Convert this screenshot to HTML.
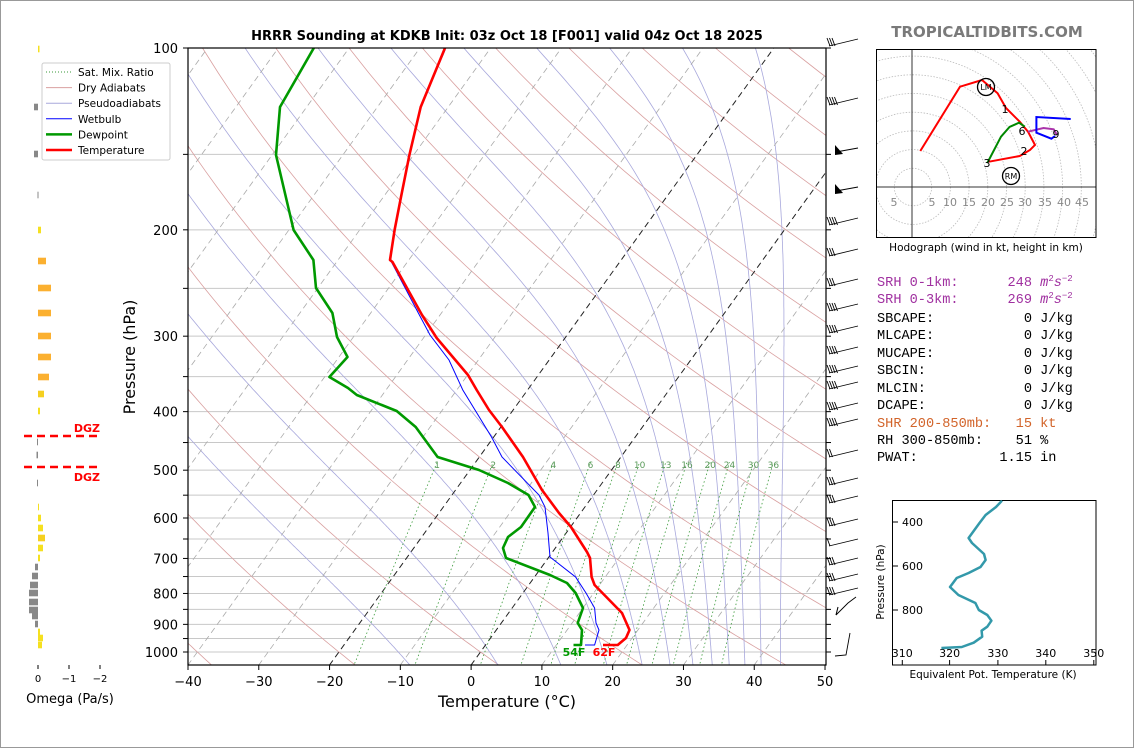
<!DOCTYPE html>
<html><head><meta charset="utf-8"><style>
html,body{margin:0;padding:0;background:#fff;}
svg{display:block;font-family:"DejaVu Sans","Liberation Sans",sans-serif;}
</style></head><body>
<svg id="s" xmlns="http://www.w3.org/2000/svg" width="1134" height="748" viewBox="0 0 1134 748">
<defs>
<clipPath id="pc"><rect x="188" y="48" width="638" height="617"/></clipPath>
<clipPath id="hc"><rect x="877" y="49" width="219" height="188"/></clipPath>
</defs>
<rect x="0.5" y="0.5" width="1133" height="747" fill="#fff" stroke="#999"/>
<g id="bg" clip-path="url(#pc)"></g>
<g id="fg"></g>
</svg>
<script>
var NS="http://www.w3.org/2000/svg";
function el(t,a,p,txt){var e=document.createElementNS(NS,t);for(var k in a)e.setAttribute(k,a[k]);if(txt!=null)e.textContent=txt;(p||document.getElementById('fg')).appendChild(e);return e;}
var bg=document.getElementById('bg');
function Y(p){return 48+604*Math.log10(p/100);}
function X(T,p){return 188+(T+40)*7.078+0.72*(665-Y(p));}
function pts(a){return a.map(function(q){return q[0].toFixed(1)+","+q[1].toFixed(1)}).join(" ");}
var isob=[100,150,200,250,300,350,400,450,500,550,600,650,700,750,800,850,900,950,1000];
isob.forEach(function(p){var y=Y(p);el('line',{x1:188,x2:826,y1:y,y2:y,stroke:'#c8c8c8','stroke-width':1},bg);});
for(var th=-80;th<=240;th+=20){var a=[];for(var p=1060;p>=95;p-=10){var T=(th+273.15)*Math.pow(p/1000,0.286)-273.15;a.push([X(T,p),Y(p)]);}el('polyline',{points:pts(a),fill:'none',stroke:'#d9a0a0','stroke-width':0.8},bg);}
function es(T){return 6.112*Math.exp(17.67*T/(T+243.5));}
for(var k=-4;k<=7;k++){var T=-94.7+10.3*k+273.15,p=100,a=[[X(T-273.15,p),Y(p)]];
while(p<1060){var Tc=T-273.15,e=es(Tc),rs=0.622*e/(p-e);var d=(287.04*T+2.501e6*rs)/(p*(1005.7+2.501e6*2.501e6*rs*0.622/(287.04*T*T)));T+=d*3;p+=3;a.push([X(T-273.15,p),Y(p)]);}
el('polyline',{points:pts(a),fill:'none',stroke:'#a8a8dc','stroke-width':0.8},bg);}
for(var t=-130;t<=50;t+=10){var blk=(t==0||t==-20);el('line',{x1:X(t,1052),y1:Y(1052),x2:X(t,100),y2:Y(100),stroke:blk?'#222':'#aaa','stroke-width':blk?1:0.8,'stroke-dasharray':'6,4'},bg);}
[1,2,4,6,8,10,13,16,20,24,30,36].forEach(function(w){var a=[];function td(p){var e=w*p/(622+w);var l=Math.log(e/6.112);return 243.5*l/(17.67-l);}
for(var p=1060;p>=485;p-=5)a.push([X(td(p),p),Y(p)]);
el('polyline',{points:pts(a),fill:'none',stroke:'#3a9a3a','stroke-width':0.8,'stroke-dasharray':'1.5,2.5'},bg);
var pt=a[a.length-1];el('text',{x:pt[0],y:468,'font-size':9,fill:'#5a9a5a','text-anchor':'middle'},bg,String(w));});
var wb=[[585,645],[594.6,645],[599,630],[596,623],[594.6,608],[586,593],[575.6,577],[550,557],[548,533],[545,507],[539,495],[502,457],[491.5,437],[462.8,390],[449,360],[430,335],[417.8,312],[390.4,260],[390,260],[394.6,230],[401,197],[409.4,155],[420.7,107],[445,50]];
var tt=[[603,645],[617.7,645],[626,638],[629.5,630],[622,613],[594.6,585],[591.6,577],[590,558],[587,552],[571,527],[559,513],[542,490],[523,457],[502,427],[489,410],[476.7,390],[468,375],[436.7,338],[422,315],[392.5,262],[390,260],[394.6,230],[401,197],[409.4,155],[420.7,107],[445,48]];
var dd=[[573.5,645],[581,645],[582,630],[577.7,623],[583,608],[575.6,593],[567,583],[550,575],[506,558],[503,548],[508,537],[521,527],[535,507],[528.5,495],[508,483],[479,470],[437.6,457],[415.7,427],[396.7,411],[356.8,395],[348,388],[329.4,377],[347.5,357],[337,337],[332.4,313],[316,288],[313.4,260],[293.6,230],[276,155],[280,107],[313.8,48]];
el('polyline',{points:pts(wb),fill:'none',stroke:'#0000ff','stroke-width':1},bg);
el('polyline',{points:pts(dd),fill:'none',stroke:'#009900','stroke-width':2.6,'stroke-linejoin':'round'},bg);
el('polyline',{points:pts(tt),fill:'none',stroke:'#ff0000','stroke-width':2.6,'stroke-linejoin':'round'},bg);
el('text',{x:574,y:656,'font-size':11,'font-weight':'bold',fill:'#009900','text-anchor':'middle'},null,'54F');
el('text',{x:604,y:656,'font-size':11,'font-weight':'bold',fill:'#ff0000','text-anchor':'middle'},null,'62F');
el('rect',{x:188,y:48,width:638,height:617,fill:'none',stroke:'#000','stroke-width':1.2});
isob.forEach(function(p){var y=Y(p);el('line',{x1:183,x2:188,y1:y,y2:y,stroke:'#000'});el('line',{x1:826,x2:831,y1:y,y2:y,stroke:'#000'});});
[100,200,300,400,500,600,700,800,900,1000].forEach(function(p){el('text',{x:178,y:Y(p)+5,'font-size':13,'text-anchor':'end'},null,String(p));});
for(var t=-40;t<=50;t+=10){var x=188+(t+40)*7.078;el('line',{x1:x,x2:x,y1:665,y2:670,stroke:'#000'});el('text',{x:x,y:686,'font-size':13,'text-anchor':'middle'},null,(t<0?'\u2212'+(-t):String(t)));}
el('text',{x:507,y:707,'font-size':16,'text-anchor':'middle'},null,'Temperature (\u00b0C)');
el('text',{x:135,y:357,'font-size':16,'text-anchor':'middle',transform:'rotate(-90 135 357)'},null,'Pressure (hPa)');
el('text',{x:507,y:40,'font-size':13,'font-weight':'bold','text-anchor':'middle'},null,'HRRR Sounding at KDKB Init: 03z Oct 18 [F001] valid 04z Oct 18 2025');
[[46,3],[105,4],[225,4],[256,3],[286,3],[311,4],[333,4],[354,4],[373,4],[389,4],[410,4],[426,4],[457,2],[485,3],[503,3],[526,3],[546,1],[565,3],[581,3],[595,3]].forEach(function(b){var y=b[0];el('line',{x1:829,y1:y,x2:858,y2:y-7,stroke:'#000','stroke-width':0.9});for(var i=0;i<b[1];i++){var bx=830+i*2.5;el('line',{x1:bx,y1:y,x2:bx-3,y2:y-8,stroke:'#000','stroke-width':0.9});}});
[152,191].forEach(function(y){el('line',{x1:836,y1:y,x2:858,y2:y-4,stroke:'#000','stroke-width':0.9});el('polygon',{points:'835,'+(y-7)+' 835,'+(y+3)+' 843,'+(y+2),fill:'#000'});});
el('polyline',{points:'836,615 848,603 856,597',fill:'none',stroke:'#000','stroke-width':0.9});el('line',{x1:836,y1:615,x2:838,y2:607,stroke:'#000'});
el('polyline',{points:'835,656 846,655 850,633',fill:'none',stroke:'#000','stroke-width':0.9});
var ob=[[49,38,39.5,'#f5e020'],[107,34,38,'#888'],[154,34,38,'#888'],[195,37.5,38.5,'#888'],[230,38,41,'#f5e020'],[261,38,46,'#fbb030'],[288,38,51,'#fbb030'],[313,38,51,'#fbb030'],[336,38,51,'#fbb030'],[357,38,51,'#fbb030'],[377,38,49,'#fbb030'],[394,38,44,'#f5d020'],[411,38,40,'#f5e020'],[442,37,38,'#888'],[455,36.5,38,'#888'],[483,37,38,'#888'],[507,38,39,'#f5e020'],[518,38,41,'#f5e020'],[528,38,43,'#f5e020'],[538,38,45,'#f5d020'],[548,38,43,'#f5e020'],[558,38,40,'#f5e020'],[567,35,38,'#888'],[576,32,38,'#888'],[585,30,38,'#888'],[593,29,38,'#888'],[602,29,38,'#888'],[610,29,38,'#888'],[616,32,38,'#888'],[624,35,38,'#888'],[632,38,40,'#f5e020'],[638,38,43,'#f5e020'],[645,38,42,'#f5e020']];
ob.forEach(function(b){el('rect',{x:b[1],y:b[0]-3.3,width:b[2]-b[1],height:6.6,fill:b[3]});});
el('line',{x1:24,x2:100,y1:436,y2:436,stroke:'#f00','stroke-width':2.5,'stroke-dasharray':'8,5'});
el('line',{x1:24,x2:100,y1:467,y2:467,stroke:'#f00','stroke-width':2.5,'stroke-dasharray':'8,5'});
el('text',{x:100,y:432,'font-size':11,'font-weight':'bold',fill:'#f00','text-anchor':'end'},null,'DGZ');
el('text',{x:100,y:481,'font-size':11,'font-weight':'bold',fill:'#f00','text-anchor':'end'},null,'DGZ');
[[38,'0'],[69,'\u22121'],[100,'\u22122']].forEach(function(t){el('line',{x1:t[0],x2:t[0],y1:665,y2:669,stroke:'#000'});el('text',{x:t[0],y:682,'font-size':10,'text-anchor':'middle'},null,t[1]);});
el('text',{x:70,y:703,'font-size':13,'text-anchor':'middle'},null,'Omega (Pa/s)');
var lg=el('g',{});
el('rect',{x:42,y:63,width:128,height:97,fill:'#fff',stroke:'#ccc',rx:2},lg);
[['Sat. Mix. Ratio','#3a9a3a',1,'1,2'],['Dry Adiabats','#d9a0a0',1,''],['Pseudoadiabats','#a8a8dc',1,''],['Wetbulb','#0000ff',1,''],['Dewpoint','#009900',2.5,''],['Temperature','#ff0000',2.5,'']].forEach(function(r,i){var y=72+i*15.6;el('line',{x1:46,x2:72,y1:y,y2:y,stroke:r[1],'stroke-width':r[2],'stroke-dasharray':r[3]||'none'},lg);el('text',{x:78,y:y+4,'font-size':10.5},lg,r[0]);});
el('text',{x:987,y:37,'font-size':15,'font-weight':'bold',fill:'#7a7a7a','text-anchor':'middle'},null,'TROPICALTIDBITS.COM');
var hg=el('g',{'clip-path':'url(#hc)'});
for(var r=1;r<=14;r++)el('circle',{cx:913,cy:187,r:r*18.7,fill:'none',stroke:'#bbb','stroke-width':0.8,'stroke-dasharray':'1.5,1.5'},hg);
el('line',{x1:877,x2:1096,y1:187,y2:187,stroke:'#333'},hg);el('line',{x1:912,x2:912,y1:49,y2:237,stroke:'#333'},hg);
el('polyline',{points:'920.3,151 960,86.7 982,80 997.6,93.3 1006,108 1019.7,121.7 1028,131.7 1035,145 1030,150 1019.7,156 989,161.7',fill:'none',stroke:'#f00','stroke-width':2},hg);
el('polyline',{points:'987.3,163 1001,136.7 1009.5,127 1019,122.7 1024.8,126.7',fill:'none',stroke:'#080','stroke-width':2},hg);
el('polyline',{points:'1028,131.7 1043.5,128 1053.7,129.3 1057,135',fill:'none',stroke:'#a3a','stroke-width':2},hg);
el('polyline',{points:'1070.7,119 1036.4,117 1036.4,132.7 1051.4,138.7 1055,136',fill:'none',stroke:'#00f','stroke-width':2},hg);
[['1',1005,113],['6',1022,135],['9',1056,138],['2',1024,155],['3',987,167]].forEach(function(l){el('text',{x:l[1],y:l[2],'font-size':11,'text-anchor':'middle'},hg,l[0]);});
el('circle',{cx:986,cy:87,r:8.5,fill:'none',stroke:'#000','stroke-width':1.3},hg);el('text',{x:986,y:90,'font-size':8,'text-anchor':'middle'},hg,'LM');
el('circle',{cx:1011,cy:176,r:8.5,fill:'none',stroke:'#000','stroke-width':1.3},hg);el('text',{x:1011,y:179,'font-size':8,'text-anchor':'middle'},hg,'RM');
[['5',894],['5',932],['10',950],['15',969],['20',988],['25',1007],['30',1025],['35',1045],['40',1064],['45',1082]].forEach(function(l){el('text',{x:l[1],y:206,'font-size':11,fill:'#888','text-anchor':'middle'},hg,l[0]);});
el('rect',{x:876.5,y:49.5,width:219.5,height:188,fill:'none',stroke:'#000','stroke-width':1});
el('text',{x:986,y:251,'font-size':10.5,'text-anchor':'middle'},null,'Hodograph (wind in kt, height in km)');
function line(y,col,parts){var t=el('text',{x:877,y:y,'font-family':'"Liberation Mono","DejaVu Sans Mono",monospace','font-size':13.6,fill:col,'xml:space':'preserve'});t.setAttribute('style','white-space:pre');parts.forEach(function(p){el('tspan',p[1]||{},t,p[0]);});return t;}
function srh(y,lab,v){var t=line(y,'#a030a0',[[lab+v+' ']]);el('tspan',{'font-style':'italic'},t,'m');el('tspan',{'font-size':9,dy:-5},t,'2');el('tspan',{'font-style':'italic',dy:5},t,'s');el('tspan',{'font-size':9,dy:-5},t,'\u22122');}
srh(286,'SRH 0-1km:      ','248');srh(303,'SRH 0-3km:      ','269');
line(322,'#000',[['SBCAPE:           0 J/kg']]);
line(339,'#000',[['MLCAPE:           0 J/kg']]);
line(357,'#000',[['MUCAPE:           0 J/kg']]);
line(374,'#000',[['SBCIN:            0 J/kg']]);
line(392,'#000',[['MLCIN:            0 J/kg']]);
line(409,'#000',[['DCAPE:            0 J/kg']]);
line(427,'#d2642a',[['SHR 200-850mb:   15 kt']]);
line(444,'#000',[['RH 300-850mb:    51 %']]);
line(461,'#000',[['PWAT:          1.15 in']]);
el('rect',{x:892.5,y:500.5,width:203.5,height:164.5,fill:'none',stroke:'#000'});
[[522,'400'],[566,'600'],[610,'800']].forEach(function(t){el('line',{x1:893,x2:898,y1:t[0],y2:t[0],stroke:'#000'});el('text',{x:923,y:t[0]+4,'font-size':11,'text-anchor':'end'},null,t[1]);});
[[902.3,'310'],[949.6,'320'],[997.9,'330'],[1045.8,'340'],[1093.8,'350']].forEach(function(t){el('line',{x1:t[0],x2:t[0],y1:660,y2:665,stroke:'#000'});el('text',{x:t[0],y:657,'font-size':11,'text-anchor':'middle'},null,t[1]);});
el('polyline',{points:'1002,500.7 996,507 985.6,515 979.5,523 968.6,538 972,543 984,554 985.6,560 980.5,567 968.6,573 956.7,578 950,587 958.4,595 975.4,603 978.8,610 987.3,615 991.4,620.7 987.3,626.7 981.6,630.7 982.2,636.7 973.7,642.7 961.8,647 941.4,648',fill:'none',stroke:'#3399aa','stroke-width':2.5,'stroke-linejoin':'round'});
el('text',{x:993,y:678,'font-size':10.5,'text-anchor':'middle'},null,'Equivalent Pot. Temperature (K)');
el('text',{x:884,y:582,'font-size':10.5,'text-anchor':'middle',transform:'rotate(-90 884 582)'},null,'Pressure (hPa)');
</script>
</body></html>
